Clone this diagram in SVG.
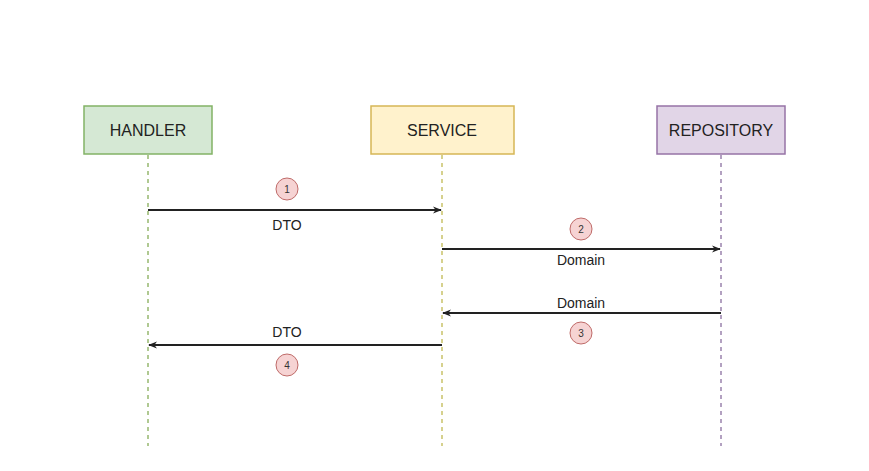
<svg xmlns="http://www.w3.org/2000/svg" width="869" height="471" viewBox="0 0 869 471">
<style>
.box{stroke-width:1.5}
.lbl{font-family:"Liberation Sans",Arial,sans-serif;font-size:16px;fill:#222;text-anchor:middle}
.msg{font-family:"Liberation Sans",Arial,sans-serif;font-size:14px;fill:#222;text-anchor:middle}
.num{font-family:"Liberation Sans",Arial,sans-serif;font-size:10px;fill:#333;text-anchor:middle}
.life{stroke-width:1.5;stroke-dasharray:4 4;fill:none}
.arr{stroke:#222;stroke-width:1.8;fill:none;marker-end:url(#ah)}
.badge{fill:#f6d3d3;stroke:#bf6b69;stroke-width:1}
</style>
<defs>
<marker id="ah" viewBox="0 0 10 10" refX="9" refY="5" markerWidth="9" markerHeight="9" markerUnits="userSpaceOnUse" orient="auto">
<path d="M0,1 L10,5 L0,9 L3,5 Z" fill="#222"/>
</marker>
</defs>
<rect width="869" height="471" fill="#fff"/>
<g id="lifelines">
<line class="life" x1="148" y1="155" x2="148" y2="446" stroke="#97b86f"/>
<line class="life" x1="442" y1="155" x2="442" y2="446" stroke="#c9c26a"/>
<line class="life" x1="721" y1="155" x2="721" y2="446" stroke="#9a82ad"/>
</g>
<g id="handler">
<rect class="box" x="84" y="106" width="128" height="48" fill="#d5e8d4" stroke="#82b366"/>
<text class="lbl" x="148" y="135.500">HANDLER</text>
</g>
<g id="service">
<rect class="box" x="371" y="106" width="143" height="48" fill="#fff2cc" stroke="#d6b656"/>
<text class="lbl" x="442" y="135.500">SERVICE</text>
</g>
<g id="repository">
<rect class="box" x="657" y="106" width="128" height="48" fill="#e1d5e7" stroke="#9673a6"/>
<text class="lbl" x="721" y="135.500">REPOSITORY</text>
</g>
<g id="connectors">
<line class="arr" x1="148" y1="210" x2="441" y2="210"/>
<line class="arr" x1="442" y1="249" x2="720" y2="249"/>
<line class="arr" x1="721" y1="313" x2="443" y2="313"/>
<line class="arr" x1="442" y1="345" x2="149" y2="345"/>
</g>
<g id="labels">
<text class="msg" x="287" y="229.500">DTO</text>
<text class="msg" x="581" y="264.500">Domain</text>
<text class="msg" x="581" y="307.500">Domain</text>
<text class="msg" x="287" y="336.500">DTO</text>
</g>
<g id="badge1"><circle class="badge" cx="287" cy="189" r="11"/><text class="num" x="287" y="193">1</text></g>
<g id="badge2"><circle class="badge" cx="581" cy="229" r="11"/><text class="num" x="581" y="233">2</text></g>
<g id="badge3"><circle class="badge" cx="581" cy="333" r="11"/><text class="num" x="581" y="337">3</text></g>
<g id="badge4"><circle class="badge" cx="287" cy="365" r="11"/><text class="num" x="287" y="369">4</text></g>
</svg>
